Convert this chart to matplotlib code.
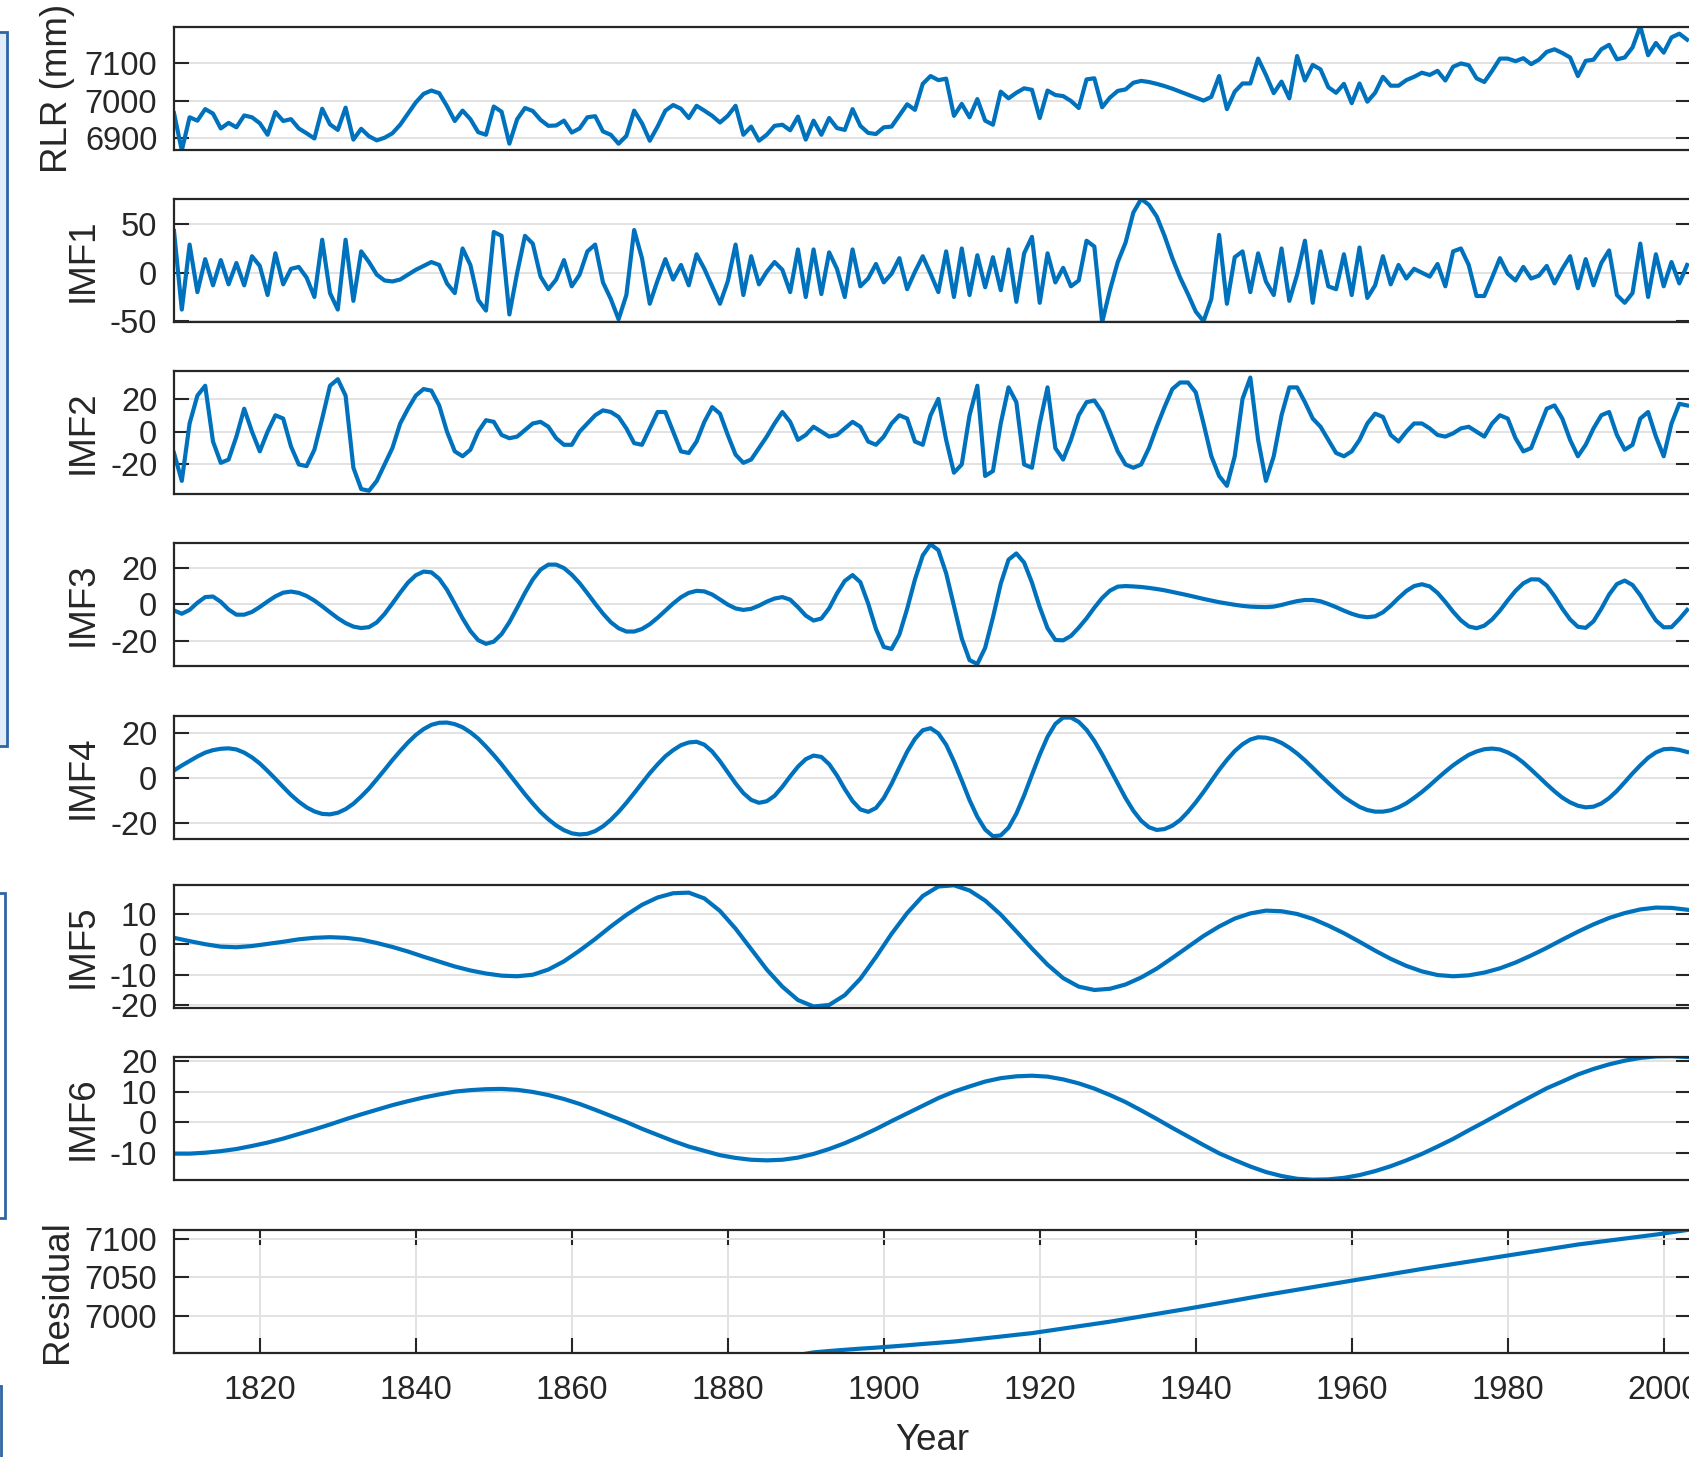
import numpy as np
import matplotlib.pyplot as plt
from matplotlib.patches import Rectangle

plt.rcParams['font.family'] = ['Liberation Sans', 'DejaVu Sans']
plt.rcParams['axes.unicode_minus'] = False

# annual series (1809-2003)
years = np.arange(1809, 2004)

rlr = [6966, 6866, 6955, 6946, 6977, 6965, 6925, 6940, 6928, 6960,
       6955, 6939, 6908, 6969, 6945, 6950, 6925, 6912, 6898, 6978,
       6936, 6921, 6981, 6895, 6924, 6904, 6893, 6900, 6912, 6935,
       6965, 6995, 7018, 7027, 7020, 6985, 6945, 6973, 6950, 6915,
       6908, 6984, 6970, 6884, 6950, 6980, 6972, 6948, 6932, 6933,
       6946, 6914, 6925, 6955, 6958, 6917, 6908, 6884, 6905, 6973,
       6939, 6892, 6930, 6973, 6988, 6978, 6953, 6986, 6973, 6959,
       6941, 6959, 6986, 6908, 6930, 6892, 6908, 6932, 6935, 6920,
       6957, 6895, 6946, 6908, 6953, 6926, 6921, 6977, 6932, 6913,
       6910, 6928, 6930, 6960, 6990, 6975, 7045, 7066, 7055, 7059,
       6959, 6991, 6955, 7004, 6946, 6935, 7024, 7006, 7021, 7033,
       7029, 6953, 7027, 7015, 7012, 6999, 6980, 7057, 7060, 6982,
       7008, 7026, 7030, 7048, 7053, 7050, 7045, 7039, 7032, 7024,
       7016, 7008, 7000, 7010, 7066, 6977, 7024, 7046, 7046, 7113,
       7069, 7020, 7051, 7006, 7120, 7054, 7096, 7084, 7036, 7021,
       7045, 6993, 7046, 6997, 7021, 7064, 7040, 7040, 7055, 7064,
       7075, 7069, 7080, 7054, 7091, 7100, 7095, 7060, 7050, 7080,
       7113, 7113, 7106, 7114, 7098, 7110, 7131, 7138, 7128, 7116,
       7066, 7107, 7110, 7138, 7150, 7111, 7116, 7143, 7200, 7122,
       7155, 7129, 7170, 7180, 7164]

imf1 = [43, -38, 29, -20, 14, -13, 13, -12, 10, -13,
        17, 7, -23, 20, -12, 4, 6, -5, -25, 34,
        -21, -38, 34, -29, 22, 11, -2, -8, -9, -7,
        -2, 3, 7, 11, 8, -11, -21, 25, 8, -28,
        -39, 42, 38, -43, 0, 38, 30, -4, -17, -7,
        13, -14, -2, 22, 29, -10, -27, -48, -23, 44,
        15, -32, -8, 14, -7, 8, -13, 19, 4, -14,
        -32, -9, 29, -23, 17, -12, 1, 11, 3, -20,
        24, -25, 24, -22, 21, 4, -25, 24, -14, -6,
        9, -10, -1, 15, -17, 1, 17, -1, -20, 22,
        -25, 25, -23, 18, -15, 16, -18, 24, -30, 20,
        37, -31, 20, -10, 5, -14, -8, 33, 27, -51,
        -18, 11, 31, 62, 76, 70, 58, 38, 15, -5,
        -22, -40, -50, -27, 39, -32, 16, 22, -20, 20,
        -9, -23, 25, -29, -2, 33, -31, 22, -14, -17,
        19, -23, 26, -26, -13, 17, -12, 8, -6, 4,
        0, -4, 9, -14, 22, 25, 8, -24, -24, -5,
        15, -1, -8, 6, -6, -3, 7, -11, 4, 17,
        -16, 14, -13, 10, 23, -23, -31, -21, 30, -25,
        19, -14, 11, -11, 8]

imf2 = [-13, -30, 5, 22, 28, -6, -19, -17, -3, 14,
        0, -12, 0, 10, 8, -9, -20, -21, -11, 8,
        28, 32, 22, -22, -35, -36, -30, -20, -10, 5,
        14, 22, 26, 25, 16, 0, -12, -15, -11, 0,
        7, 6, -2, -4, -3, 1, 5, 6, 3, -4,
        -8, -8, 0, 5, 10, 13, 12, 9, 2, -7,
        -8, 2, 12, 12, 0, -12, -13, -6, 6, 15,
        11, -2, -14, -19, -17, -10, -3, 5, 12, 6,
        -5, -2, 3, 0, -3, -2, 2, 6, 3, -6,
        -8, -3, 5, 10, 8, -6, -8, 10, 20, -5,
        -25, -20, 10, 28, -27, -24, 5, 27, 18, -20,
        -22, 5, 27, -10, -17, -5, 10, 18, 19, 12,
        0, -12, -20, -22, -20, -10, 3, 15, 26, 30,
        30, 24, 5, -15, -27, -33, -15, 20, 33, -5,
        -30, -15, 10, 27, 27, 18, 8, 3, -5, -13,
        -15, -12, -5, 5, 11, 9, -2, -6, 0, 5,
        5, 2, -2, -3, -1, 2, 3, 0, -3, 5,
        10, 8, -4, -12, -10, 2, 14, 16, 8, -5,
        -15, -8, 2, 10, 12, -2, -11, -8, 8, 12,
        -3, -15, 5, 17, 16]

imf3 = [-3.3, -5.1, -3.0, 0.9, 4.0, 4.3, 1.4, -2.8, -5.6, -5.6,
        -4.1, -1.4, 1.6, 4.4, 6.4, 7.0, 6.3, 4.6, 2.1, -1.0,
        -4.3, -7.5, -10.2, -12.1, -12.9, -12.4, -9.8, -5.2, 0.5, 6.4,
        11.9, 15.9, 17.9, 17.5, 14.0, 8.0, 0.3, -7.6, -14.5, -19.5,
        -21.5, -20.3, -16.2, -9.7, -1.8, 6.3, 13.6, 19.0, 21.7, 21.7,
        19.8, 16.2, 11.6, 6.1, 0.4, -5.0, -9.7, -13.0, -14.8, -14.8,
        -13.4, -10.8, -7.3, -3.4, 0.5, 3.9, 6.3, 7.4, 7.1, 5.4,
        2.7, -0.1, -2.2, -3.0, -2.4, -0.7, 1.5, 3.2, 4.0, 2.6,
        -1.5, -6.1, -8.8, -7.7, -2.1, 6.0, 12.8, 16.0, 12.1, 0.5,
        -13.4, -23.2, -24.3, -16.5, -2.4, 13.6, 26.7, 32.8, 29.6, 17.0,
        -0.9, -18.6, -30.4, -32.5, -23.7, -7.1, 11.3, 24.4, 27.8, 22.8,
        11.9, -1.5, -13.0, -19.4, -19.6, -17.2, -12.7, -7.6, -1.8, 3.5,
        7.5, 9.7, 10.0, 9.8, 9.5, 9.0, 8.4, 7.7, 6.8, 5.9,
        5.0, 4.0, 3.0, 2.1, 1.2, 0.5, -0.2, -0.8, -1.2, -1.4,
        -1.5, -1.2, -0.3, 0.8, 1.8, 2.4, 2.4, 1.7, 0.2, -1.5,
        -3.4, -5.1, -6.4, -7.0, -6.5, -4.3, -0.7, 3.5, 7.3, 10.0,
        11.0, 9.8, 6.3, 1.4, -4.0, -8.7, -12.0, -13.0, -11.6, -8.2,
        -3.4, 2.2, 7.4, 11.5, 13.7, 13.6, 10.3, 4.5, -2.3, -8.2,
        -12.2, -12.8, -9.2, -2.4, 5.4, 11.1, 13.0, 10.6, 5.0, -2.2,
        -8.7, -12.5, -12.4, -8.0, -3.0]

imf4 = [3.3, 5.5, 7.5, 9.5, 11.2, 12.3, 12.9, 13.1, 12.6, 11.2,
        9.1, 6.4, 3.1, -0.4, -4.0, -7.5, -10.5, -13.0, -14.8, -15.9,
        -16.1, -15.4, -13.8, -11.4, -8.2, -4.7, -0.6, 3.6, 7.9, 11.9,
        15.7, 19.0, 21.6, 23.5, 24.4, 24.5, 23.8, 22.4, 20.2, 17.4,
        13.9, 10.1, 6.0, 1.6, -2.8, -7.2, -11.3, -15.1, -18.3, -21.0,
        -23.1, -24.5, -25.0, -24.7, -23.5, -21.4, -18.5, -15.0, -11.0, -6.7,
        -2.3, 2.1, 6.0, 9.6, 12.3, 14.5, 15.7, 16.0, 14.7, 11.7,
        7.4, 2.5, -2.4, -6.7, -9.7, -11.0, -10.3, -7.9, -3.9, 0.7,
        5.0, 8.3, 9.9, 9.3, 6.1, 1.1, -4.9, -10.2, -13.9, -15.0,
        -13.3, -8.9, -2.6, 4.6, 11.6, 17.3, 21.1, 22.0, 19.7, 14.7,
        7.3, -1.1, -9.8, -17.2, -22.8, -25.8, -25.4, -22.0, -15.8, -7.7,
        1.4, 10.3, 18.2, 23.9, 26.7, 26.7, 24.8, 21.3, 16.4, 10.5,
        4.0, -2.6, -8.9, -14.5, -18.9, -21.8, -23.0, -22.6, -21.1, -18.6,
        -15.0, -10.8, -6.2, -1.3, 3.6, 8.0, 11.9, 14.9, 17.0, 18.0,
        17.8, 17.0, 15.5, 13.4, 10.8, 7.8, 4.5, 1.1, -2.2, -5.4,
        -8.4, -10.7, -12.8, -14.2, -14.9, -14.9, -14.3, -13.0, -11.2, -8.8,
        -6.2, -3.3, -0.2, 2.8, 5.6, 8.0, 10.2, 11.7, 12.7, 13.0,
        12.6, 11.3, 9.4, 6.8, 3.7, 0.5, -2.8, -5.9, -8.7, -10.8,
        -12.3, -13.0, -12.7, -11.3, -8.9, -5.7, -1.9, 2.0, 5.6, 8.9,
        11.3, 12.7, 12.9, 12.4, 11.5]

# slow components, read every second year (1809, 1811, ..., 2003)
years2 = np.arange(1809, 2004, 2)

imf5 = [2.1, 1.0, 0.0, -0.8, -1.0, -0.6, 0.1, 0.8, 1.6, 2.1,
        2.3, 2.1, 1.5, 0.4, -0.9, -2.4, -4.1, -5.7, -7.3, -8.6,
        -9.6, -10.3, -10.5, -10.0, -8.3, -5.6, -2.1, 1.7, 5.8, 9.6,
        12.9, 15.3, 16.7, 16.9, 15.0, 10.9, 5.1, -1.6, -8.3, -13.9,
        -18.3, -20.4, -19.9, -16.7, -11.3, -4.2, 3.4, 10.2, 15.8, 18.9,
        19.3, 17.6, 14.3, 9.7, 4.2, -1.4, -6.7, -11.1, -13.9, -15.0,
        -14.6, -13.2, -10.9, -8.0, -4.5, -0.9, 2.7, 5.8, 8.4, 10.1,
        11.0, 10.8, 9.9, 8.3, 6.1, 3.6, 0.8, -2.1, -4.8, -7.1,
        -8.9, -10.1, -10.5, -10.2, -9.3, -7.9, -6.0, -3.7, -1.2, 1.5,
        4.1, 6.5, 8.6, 10.2, 11.4, 12.0, 11.9, 11.3]

imf6 = [-10.2, -10.2, -9.9, -9.4, -8.7, -7.7, -6.6, -5.3, -3.8, -2.3,
        -0.7, 1.0, 2.6, 4.1, 5.6, 6.9, 8.1, 9.1, 10.0, 10.5,
        10.8, 10.9, 10.6, 9.9, 8.9, 7.6, 6.0, 4.1, 2.1, 0.1,
        -2.1, -4.1, -6.1, -7.9, -9.3, -10.7, -11.6, -12.2, -12.4, -12.2,
        -11.5, -10.3, -8.7, -6.8, -4.6, -2.2, 0.4, 2.9, 5.4, 7.9,
        10.0, 11.7, 13.3, 14.4, 15.0, 15.2, 14.9, 14.0, 12.7, 11.0,
        8.9, 6.6, 3.9, 1.1, -1.8, -4.6, -7.4, -10.1, -12.3, -14.4,
        -16.2, -17.5, -18.4, -18.7, -18.6, -18.1, -17.2, -15.9, -14.3, -12.4,
        -10.3, -7.9, -5.4, -2.6, 0.1, 2.9, 5.7, 8.4, 11.1, 13.3,
        15.6, 17.4, 18.9, 20.1, 21.0, 21.5, 21.6, 21.3]

# residual: only the part inside the panel's range can be read (1889-2003)
res_years = np.arange(1889, 2004, 2)
residual = [6948.3, 6951.8, 6953.6, 6955.2, 6956.7, 6958.0, 6959.5, 6961.1, 6962.8, 6964.4,
            6966.0, 6968.1, 6970.3, 6972.5, 6974.8, 6977.0, 6980.0, 6983.0, 6986.0, 6989.0,
            6992.0, 6995.4, 6998.8, 7002.2, 7005.6, 7009.0, 7012.6, 7016.2, 7019.8, 7023.4,
            7027.0, 7030.4, 7033.8, 7037.2, 7040.6, 7044.0, 7047.4, 7050.8, 7054.2, 7057.6,
            7061.0, 7064.2, 7067.4, 7070.6, 7073.8, 7077.0, 7080.2, 7083.4, 7086.6, 7089.8,
            7093.0, 7095.6, 7098.2, 7100.8, 7103.4, 7106.0, 7109.0, 7112.0]

labels = ['RLR (mm)', 'IMF1', 'IMF2', 'IMF3', 'IMF4', 'IMF5', 'IMF6', 'Residual']
series = [(years, rlr), (years, imf1), (years, imf2), (years, imf3),
          (years, imf4), (years2, imf5), (years2, imf6), (res_years, residual)]
yticks = [[6900, 7000, 7100], [-50, 0, 50], [-20, 0, 20], [-20, 0, 20],
          [-20, 0, 20], [-20, -10, 0, 10], [-10, 0, 10, 20], [7000, 7050, 7100]]
ylims = [(6867, 7198), (-50.8, 76), (-38, 37), (-33.6, 33.5),
         (-27, 27.4), (-20.9, 19.4), (-18.8, 21.3), (6951, 7112)]
xticks = [1820, 1840, 1860, 1880, 1900, 1920, 1940, 1960, 1980, 2000]

W, H = 1690, 1457
fig = plt.figure(figsize=(W / 100, H / 100), dpi=100)

dark = '#262626'
blue = '#0072BD'
tops = [27, 199, 371, 543, 716, 885, 1057, 1230]
ax_h = 123
x0, x1 = 174, 1691

for i in range(8):
    ax = fig.add_axes([x0 / W, 1 - (tops[i] + ax_h) / H, (x1 - x0) / W, ax_h / H])
    x, y = series[i]
    ax.plot(x, y, color=blue, lw=3.0)
    ax.set_xlim(1809, 2003.5)
    ax.set_ylim(*ylims[i])
    ax.set_yticks(yticks[i])
    ax.grid(True, axis='y', color='#e2e2e2', lw=1.4)
    ax.set_axisbelow(True)
    for s in ax.spines.values():
        s.set_color(dark)
        s.set_linewidth(1.6)
    ax.tick_params(axis='y', direction='in', length=11, width=1.5, left=True,
                   right=True, labelsize=23.5, colors=dark, pad=12)
    ax.set_ylabel(labels[i], fontsize=26.5, color=dark, labelpad=7)
    if i < 7:
        ax.set_xticks([])
    else:
        ax.set_xticks(xticks)
        ax.grid(True, axis='x', color='#e2e2e2', lw=1.4)
        ax.tick_params(axis='x', direction='in', length=11, width=1.5, top=True,
                       bottom=True, labelsize=23.5, colors=dark, pad=16)
        ax.set_xlabel('Year', fontsize=26.5, color=dark, labelpad=12)

# fragments of the neighbouring panels at the left edge
fig.add_artist(Rectangle((-10 / W, 1 - 746 / H), 17 / W, (746 - 32) / H,
                         transform=fig.transFigure, facecolor='#e1ecf8',
                         edgecolor='#2e65a3', lw=2))
fig.add_artist(Rectangle((-10 / W, 1 - 1218 / H), 15 / W, (1218 - 893) / H,
                         transform=fig.transFigure, facecolor='white',
                         edgecolor='#2e65a3', lw=2))
fig.add_artist(Rectangle((-10 / W, -10 / H), 11 / W, (1457 - 1386 + 10) / H,
                         transform=fig.transFigure, facecolor='white',
                         edgecolor='#2e65a3', lw=2))

fig.savefig('out.png', dpi=100)
